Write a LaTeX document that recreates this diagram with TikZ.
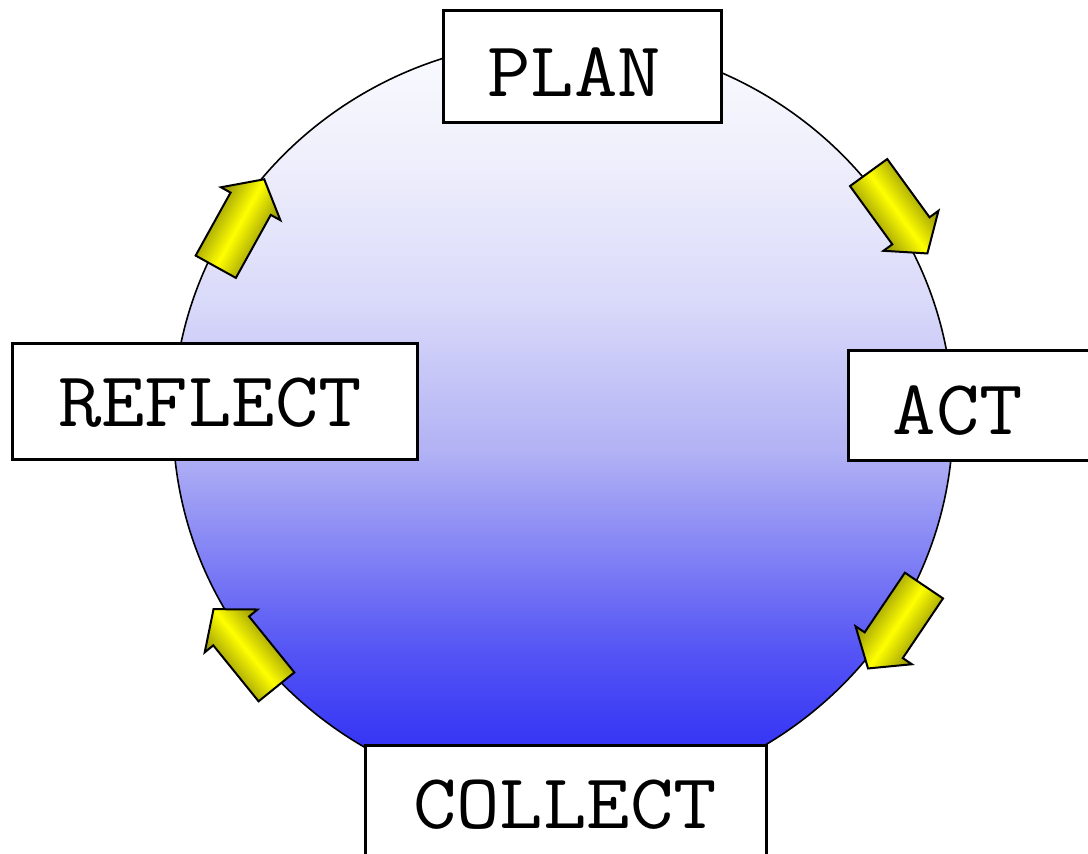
\documentclass[tikz,border=0pt]{standalone}
\usepackage{fontspec}
\usepackage{graphicx}
\definecolor{bA}{RGB}{45,45,250}
\definecolor{bB}{RGB}{55,55,245}
\definecolor{bC}{RGB}{85,85,245}
\definecolor{bD}{RGB}{132,132,245}
\definecolor{bE}{RGB}{178,178,245}
\definecolor{bF}{RGB}{218,218,250}
\definecolor{bG}{RGB}{240,240,252}
\definecolor{bH}{RGB}{250,250,255}
\definecolor{arrowedge}{RGB}{140,140,10}
\definecolor{arrowmid}{RGB}{255,255,0}
\pgfdeclareverticalshading{bluefade}{100bp}{color(0bp)=(bA); color(25bp)=(bA); color(28.9bp)=(bB); color(34.9bp)=(bC); color(41.4bp)=(bD); color(48bp)=(bE); color(57.9bp)=(bF); color(67.8bp)=(bG); color(75bp)=(bH); color(100bp)=(bH)}
\newcommand{\cyclearrowat}[3]{%
  \begin{scope}[transform canvas={shift={(#1,#2)},rotate=#3}]
    \shadedraw[cyclearrow] (-50,-23) -- (22,-23) -- (22,-34) -- (50,0) -- (22,34) -- (22,23) -- (-50,23) -- cycle;
  \end{scope}}
\begin{document}
\begin{tikzpicture}[x=1pt,y=-1pt,
  box/.style={draw=black,line width=3pt,fill=white,rectangle,inner sep=0pt},
  lbl/.style={font=\fontsize{78}{78}\selectfont\ttfamily,inner sep=0pt,text depth=0pt},
  cyclearrow/.style={draw=black,line width=2pt,line join=miter,top color=arrowedge,bottom color=arrowedge,middle color=arrowmid}]
\useasboundingbox (0,0) rectangle (1088,854);
\fill[white] (0,0) rectangle (1088,854);
\shadedraw[shading=bluefade,draw=black,line width=1.6pt] (563,420) ellipse [x radius=390pt, y radius=380pt];
\cyclearrowat{898}{213}{-54}
\cyclearrowat{896}{627}{-124}
\cyclearrowat{245}{648}{129}
\cyclearrowat{240}{223}{61}
\node[box,minimum width=278pt,minimum height=112pt] (planbox) at (582.5,66.5) {};
\node[lbl] (plan) at (574,72.5) {\scalebox{1.08}[1]{PLAN}};
\node[box,minimum width=262pt,minimum height=110pt] (actbox) at (979,405) {};
\node[lbl] (act) at (958,410) {\scalebox{1.08}[1]{ACT}};
\node[box,minimum width=401pt,minimum height=125pt] (collectbox) at (565.5,807.5) {};
\node[lbl] (collect) at (565,804) {\scalebox{1.08}[1]{COLLECT}};
\node[box,minimum width=405pt,minimum height=116pt] (reflectbox) at (215,401.5) {};
\node[lbl] (reflect) at (210,402) {\scalebox{1.08}[1]{REFLECT}};
\end{tikzpicture}
\end{document}
